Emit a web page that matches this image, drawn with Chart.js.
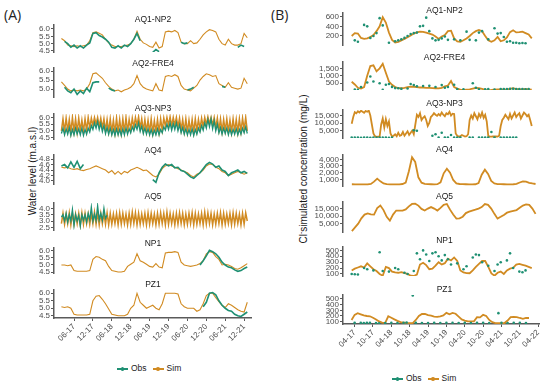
<!DOCTYPE html>
<html>
<head>
<meta charset="utf-8">
<script src="https://cdn.jsdelivr.net/npm/chart.js@4.4.1/dist/chart.umd.min.js"></script>
<style>
  body { margin: 0; width: 550px; height: 384px; position: relative; background: #fff; overflow: hidden;
         font-family: "Liberation Sans", Arial, sans-serif; }
  canvas { position: absolute; }
  .panneau { position: absolute; font-family: "Open Sans", sans-serif; font-size: 14px; color: #222; }
  .titre { position: absolute; font-size: 8.5px; color: #1a1a1a; transform: translate(-50%, -50%); white-space: nowrap; }
  .ytitre { position: absolute; font-size: 10px; color: #1a1a1a; white-space: nowrap;
            transform: translate(-50%, -50%) rotate(-90deg); }
  .ytitre sup { font-size: 7px; }
  .legende { position: absolute; font-size: 8.5px; color: #222; white-space: nowrap; transform: translateY(-50%); }
  .cle { display: inline-block; position: relative; width: 11px; height: 1.5px; vertical-align: middle; margin-right: 3px; }
  .cle::after { content: ''; position: absolute; left: 3.5px; top: -1px; width: 3.5px; height: 3.5px; border-radius: 50%; background: inherit; }
</style>
</head>
<body>
<div class="panneau" style="left:4px;top:5px">(A)</div>
<div class="panneau" style="left:271px;top:5px">(B)</div>
<div class="ytitre" style="left:32px;top:171px">Water level (m.a.s.l)</div>
<div class="ytitre" style="left:303px;top:169px">Cl<sup>-</sup>simulated concentration (mg/L)</div>
<div class="legende" style="left:117px;top:368px"><span class="cle" style="background:#1f9073"></span>Obs<span class="cle" style="background:#d18b22;margin-left:6px"></span>Sim</div>
<div class="legende" style="left:392px;top:378px"><span class="cle" style="background:#1f9073"></span>Obs<span class="cle" style="background:#d18b22;margin-left:6px"></span>Sim</div>

<script>
// couleurs des series
const SIM = '#d18b22';
const OBS = '#1f9073';

// etiquettes de l'axe du temps (mois-annee)
const ticksA = ['06-17', '12-17', '06-18', '12-18', '06-19', '12-19', '06-20', '12-20', '06-21', '12-21'];
const ticksB = ['04-17', '10-17', '04-18', '10-18', '04-19', '10-19', '04-20', '10-20', '04-21', '10-21', '04-22'];
// position d'une etiquette en mois depuis janvier 2017
const moisDe = s => (+s.slice(3) - 17) * 12 + (+s.slice(0, 2) - 1);

// grilles de temps (mois depuis janvier 2017)
function grille(de, a, pas) {
  const out = [];
  for (let m = de; m <= a + 1e-9; m += pas) out.push(+m.toFixed(2));
  return out;
}
const moisA = grille(1, 60, 1);
const demiA = grille(1, 60, 0.5);
const moisB = grille(2, 60, 1);
const demiB = grille(2, 60, 0.5);
const vide = n => Array(n).fill(null);

// ---- (A) niveaux d'eau ----
const aq1Sim = [5.35,5.2,4.9,4.85,4.8,4.85,4.8,4.85,4.9,5.2, 5.75,5.8,5.7,5.6,5.3,5.05,4.9,4.8,4.8,4.8,
  4.85,4.9,5.0,5.3,5.85,5.3,5.05,4.95,4.8,4.75, 5.1,4.7,4.8,5.8,5.85,5.8,5.9,5.75,5.1,5.0,
  5.0,5.2,5.0,5.05,5.3,5.6,5.8,5.95,5.9,5.8, 5.3,5.0,4.9,5.3,5.0,4.9,4.9,5.0,5.7,5.4];
const aq1Obs = [null,5.15,5.0,4.75,4.9,4.7,4.85,4.7,4.9,5.05, 5.7,5.75,5.55,5.45,5.3,5.1,4.75,4.7,4.85,4.7,
  4.9,4.8,5.0,5.3,5.7,5.2,null,null,null,4.4, 4.6,4.45,null,null,null,null,null,null,5.1,5.0,
  5.05,null,null,null,null,null,null,null,null,null, null,null,null,null,null,null,4.75,4.9,4.8,null];

const aq2Sim = [5.4,5.2,5.0,4.9,4.95,4.9,4.95,4.9,5.0,5.3, 5.85,5.9,5.75,5.6,5.35,5.15,5.0,4.9,4.95,4.85,
  4.95,5.0,5.1,5.3,5.75,5.3,5.1,5.0,4.95,4.9, 5.3,4.95,4.9,5.7,5.75,5.7,5.8,5.7,5.2,5.0,
  4.95,4.9,5.05,5.2,5.5,5.7,5.85,5.8,5.7,5.75, 5.3,5.2,5.1,5.35,5.1,5.05,5.0,5.05,5.6,5.3];
const aq2Obs = [null,5.1,4.9,4.8,5.0,4.7,4.9,4.75,5.05,4.85, 5.35,5.4,5.4,null,null,5.05,4.95,4.9,null,null,
  null,null,null,null,null,null,null,null,null,null, null,null,null,null,null,null,null,null,null,null,
  4.95,5.0,5.1,null,null,null,null,null,null,null, null,5.15,5.1,null,null,null,null,null,null,null];

// AQ3-NP3 : pas d'un demi-mois (creux, pic)
const aq3Sim = [5.0,5.9, 4.95,5.95, 5.0,5.85, 4.9,6.0, 4.95,5.9, 4.9,5.95, 5.0,5.8, 4.95,5.9, 5.0,6.0, 5.2,5.95,
  5.4,6.0, 5.5,6.0, 5.35,5.95, 5.2,5.9, 5.0,5.85, 4.95,5.9, 4.9,5.8, 4.85,5.95, 4.9,5.85, 4.85,5.9,
  4.9,6.0, 4.95,5.85, 5.1,5.95, 5.25,6.0, 5.4,6.05, 5.2,5.9, 5.0,5.85, 4.95,5.8, 4.9,5.9, 4.85,5.75,
  4.95,5.85, 4.9,5.9, 5.05,5.95, 5.35,6.0, 5.4,6.05, 5.35,6.0, 5.4,6.0, 5.3,5.95, 5.05,5.85, 4.95,5.9,
  4.9,5.8, 4.95,5.85, 4.9,5.9, 5.0,5.85, 5.15,5.95, 5.3,6.0, 5.45,6.05, 5.5,6.0, 5.4,6.0, 5.25,5.95,
  5.05,5.9, 4.95,5.85, 5.0,5.9, 4.95,5.8, 4.9,5.9, 4.95,5.85, 4.9,5.9, 4.95,5.95, 5.1,6.0, 5.0];
const aq3Obs = [4.8,5.2, 4.7,5.15, 4.75,5.25, 4.65,5.1, 4.7,5.2, 4.75,5.15, 4.7,5.2, 4.65,5.1, 4.75,5.2, 4.9,5.4,
  5.1,5.6, 5.2,5.7, 5.1,5.55, 4.95,5.4, 4.8,5.25, 4.75,5.2, 4.7,5.1, 4.65,5.15, 4.7,5.1, 4.65,5.15,
  4.7,5.2, 4.75,5.15, 4.85,5.3, 5.0,5.45, 5.1,5.6, 4.95,5.35, 4.8,5.2, 4.75,5.15, 4.7,5.1, 4.65,5.05,
  4.7,5.15, 4.7,5.1, 4.85,5.3, 5.05,5.5, 5.1,5.6, 5.05,5.55, 5.1,5.6, 5.0,5.45, 4.85,5.25, 4.75,5.15,
  4.7,5.1, 4.7,5.15, 4.65,5.1, 4.75,5.2, 4.9,5.4, 5.05,5.6, 5.2,5.85, 5.3,5.9, 5.15,5.75, 5.0,5.5,
  4.85,5.25, 4.75,5.2, 4.8,5.2, 4.7,5.15, 4.7,5.1, 4.75,5.15, 4.7,5.1, 4.75,5.2, 4.85,5.3, 4.8];

const aq4Sim = [4.5,4.48,4.5,4.45,4.42,4.45,4.4,4.38,4.42,4.45, 4.5,4.55,4.5,4.45,4.4,4.3,4.38,4.25,4.35,4.25,
  4.35,4.3,4.4,4.45,4.5,4.45,4.38,4.4,4.3,4.2, 4.15,4.25,4.45,4.55,4.6,4.55,4.5,4.45,4.4,4.35,
  4.3,4.2,4.15,4.25,4.3,4.4,4.55,4.62,4.6,4.5, 4.45,4.35,4.3,4.2,4.25,4.3,4.35,4.3,4.25,4.3];
const aq4Obs = [4.55,4.6,4.48,4.7,4.5,4.72,4.45,4.6,null,null, null,null,null,null,null,null,null,null,null,null,
  null,null,null,null,null,null,null,null,null,4.05, 3.95,4.3,4.5,4.62,4.55,4.6,4.48,4.5,4.38,4.35,
  4.25,4.15,4.1,4.2,4.3,4.45,4.6,4.68,4.62,4.5, 4.55,4.4,4.35,4.2,4.3,4.35,4.4,4.3,4.35,4.28];

// AQ5 : pas d'un demi-mois (creux, pic)
const aq5Sim = [2.8,3.6, 2.75,3.55, 2.8,3.65, 2.7,3.6, 2.75,3.55, 2.8,3.6, 2.7,3.65, 2.75,3.6, 2.8,3.55, 2.75,3.6,
  2.8,3.7, 2.75,3.65, 2.7,3.6, 2.8,3.6, 2.75,3.65, 2.7,3.6, 2.75,3.55, 2.8,3.6, 2.7,3.65, 2.75,3.6,
  2.8,3.55, 2.7,3.6, 2.75,3.7, 2.8,3.65, 2.7,3.6, 2.75,3.55, 2.8,3.6, 2.7,3.65, 2.75,3.6, 2.8,3.55,
  2.7,3.6, 2.75,3.65, 2.8,3.6, 2.7,3.7, 2.75,3.6, 2.8,3.55, 2.7,3.6, 2.75,3.65, 2.8,3.6, 2.7,3.55,
  2.75,3.6, 2.8,3.65, 2.7,3.6, 2.75,3.55, 2.8,3.6, 2.7,3.7, 2.75,3.65, 2.8,3.6, 2.7,3.55, 2.75,3.6,
  2.8,3.65, 2.7,3.6, 2.75,3.55, 2.8,3.6, 2.7,3.65, 2.75,3.6, 2.8,3.55, 2.7,3.6, 2.75,3.65, 3.0];
const aq5Obs = [3.3,3.5, 3.0,3.6, 2.9,3.5, 3.0,3.9, 2.65,3.5, 3.0,3.45, 2.6,3.5, 3.05,3.5, 2.9,3.6, 3.1,4.1,
  3.0,3.55, 3.05,4.2, 3.1,3.6, 3.05,4.0, 3.2,3.45];

const np1Sim = [5.0,5.0,4.95,5.0,4.6,4.55,4.55,4.55,4.55,4.6, 5.4,5.6,5.55,5.4,5.3,4.9,4.6,4.55,4.5,4.5,
  4.55,4.9,5.05,5.2,5.8,5.3,5.2,5.05,4.9,4.85, 5.1,4.85,4.8,5.85,5.9,5.9,5.95,5.9,5.2,5.0,
  4.95,4.9,4.95,5.0,5.1,5.3,5.8,5.95,5.9,5.6, 5.4,5.0,5.05,5.0,4.9,4.75,4.7,4.8,4.95,5.1];
const np1Obs = vide(44).concat([5.0,5.3,5.65,6.05,5.95,5.8,5.55,5.2,5.0,4.85,4.8,4.65,4.55,4.6,4.75,4.85]);

const pz1Sim = [5.1,5.05,5.1,5.0,4.6,4.55,4.55,4.55,4.55,4.6, 5.5,5.8,5.85,5.6,5.3,4.95,4.6,4.55,4.5,4.5,
  4.5,4.6,5.0,5.2,6.0,5.4,5.2,5.0,5.1,5.2, 5.0,4.9,5.3,6.0,6.0,6.0,6.0,5.95,5.3,5.1,
  5.0,5.0,5.0,4.8,4.9,5.3,5.85,6.0,6.0,5.7, 5.45,5.2,5.05,5.3,5.2,5.05,4.9,4.8,4.75,5.4];
const pz1Obs = vide(45).concat([5.1,5.4,6.0,6.05,5.9,5.5,5.2,5.0,4.85,4.8,4.6,4.5,4.45,4.6,4.75]);

// ---- (B) concentrations en chlorure ----
const bAq1Sim = [200,260,250,160,140,150,180,220,300,400, 590,480,270,120,65,80,110,140,175,210,
  250,275,290,285,270,250,230,190,140,190, 220,300,310,150,90,80,110,150,200,260,
  300,325,300,200,110,80,110,180,90,110, 170,280,320,275,280,290,260,230,150];
const bAq1Obs = [null,110,80,null,430,400,160,200,260,570, 420,null,60,null,90,110,130,160,200,240,
  260,270,400,410,580,300,150,110,120,150, 190,120,null,130,null,110,null,290,120,null,
  110,270,300,null,130,null,360,250,260,180, 80,90,60,60,50,55,50,null,null];

const bAq2Sim = [600,420,200,150,250,1000,1650,1700,1300,1500, 1800,1200,620,400,250,180,170,200,250,280,
  270,240,220,220,200,200,180,170,160,200, 300,350,650,250,150,80,60,80,100,150,
  200,180,130,60,50,60,80,100,90,80, 100,130,180,120,90,100,120,100,80];
const bAq2Obs = [null,80,60,250,null,550,950,620,null,500, 60,400,450,260,180,170,130,null,150,450,
  380,300,null,320,null,330,null,250,null,380, 200,250,null,400,120,null,100,null,null,500,
  200,100,null,100,120,null,80,null,120,110, 120,130,140,120,110,120,100,120,null];

// AQ3-NP3 simule : pas d'un demi-mois
const bAq3Sim = [9500,14000, 17200,16500, 17800,17000, 18200,17500, 16800,18000, 17500,18300, 15000,9000, 3000,1200,
  800,900, 1000,9000, 13000,7000, 12500,8000, 11000,3000, 1000,1500, 2500,1200, 3500,1500, 2000,4000,
  1500,3000, 4500,2000, 3500,5000, 2500,9000, 15500,14000, 16500,12000, 13500,14500, 12000,8000, 10000,14000,
  15000,16500, 15500,14800, 16000,15000, 17000,15500, 14500,16500, 15800,17500, 15000,16200, 16000,3000,
  1500,1000, 1200,2000, 1500,1000, 1200,2500, 12000,15000, 13000,16500, 14500,12500, 16000,14000,
  17000,13500, 15500,11000, 1200,1000, 900,1000, 1100,1000, 900,1500, 8000,12000, 13500,15500,
  14000,12500, 16000,13000, 15000,17000, 14000,15500, 16500,13000, 15000,17000, 16000,14500, 15500,12000, 8000];
const bAq3Obs = [300,250,300,200,300,250,200,300,250,300, 250,300,200,250,null,null,null,null,null,null,
  5200,4800,null,null,null,null,1500,2500,300,3500, 300,300,2000,300,300,300,null,null,300,300,
  null,300,250,300,300,4000,300,null,300,300, 250,300,300,300,null,null,null,null,null];

const bAq4Sim = [260,250,240,230,230,240,320,650,1100,700, 380,280,250,240,240,250,300,500,2200,4300,
  3600,1300,500,320,280,260,250,270,550,1900, 2600,2000,900,400,300,270,260,250,250,260,
  450,1700,2450,1800,750,380,290,270,260,250, 250,260,320,520,700,650,480,380,300];

const bAq5Sim = [0,2500,5000,8500,11000,11800,11200,11000,15400,17000, 14000,9500,7000,11000,13700,13700,13700,14500,16500,18100,
  18300,17000,14800,13700,15000,16000,15000,13700,15500,17500, 18100,14300,11000,8300,8500,9600,12000,13000,13700,14300,
  15000,16000,18000,17500,15000,11500,8300,9500,10800,12300, 13000,13500,14000,15500,17000,17800,17500,15000,11500];

const bNp1Sim = [160,190,210,230,210,280,230,180,150,100, 70,220,200,140,125,120,130,115,100,70,
  65,90,260,290,250,180,190,240,300,260, 283,360,330,380,320,160,125,115,112,160,
  220,270,320,320,220,110,70,120,140,100, 160,190,205,260,270,255,240,220,200];
const bNp1Obs = [100,95,90,null,200,180,null,160,null,470, 150,null,140,null,200,180,null,120,100,null,
  150,450,350,500,430,320,450,470,400,330, 420,350,260,null,280,null,180,230,null,380,
  430,420,300,null,240,null,150,260,300,null, 330,450,200,null,140,130,160,null,null];

const bPz1Sim = [130,220,250,230,210,200,195,170,140,105, 85,80,195,170,140,115,92,85,78,75,
  75,130,200,235,235,215,205,190,185,195, 210,255,230,255,240,190,140,120,106,105,
  106,180,175,220,200,130,90,76,75,75, 76,120,180,185,182,165,150,165,165];
const bPz1Obs = [null,80,null,80,75,80,80,null,75,70, null,75,null,80,null,75,null,80,85,null,
  560,80,null,75,null,75,null,80,null,75, null,80,null,80,null,75,null,80,null,75,
  null,80,null,80,null,75,null,null,250,80, null,75,null,80,null,80,null,75,null];

// mise en page des deux panneaux
const panneauA = { axe: 54, droite: 252, xMin: -1.35, xMax: 61.5, largeurY: 30, ticks: ticksA,
  fmt: v => v.toFixed(1), points: false };
const panneauB = { axe: 343, droite: 546, xMin: -0.8, xMax: 63.3, largeurY: 45, ticks: ticksB,
  fmt: v => v.toLocaleString('en-US'), points: true };

const sousA = [
  { titre: 'AQ1-NP2', yt: 19, haut: 25, bas: 52, min: 4.43, max: 6.27, yTicks: [4.5, 5, 5.5, 6], x: moisA, sim: aq1Sim, obs: aq1Obs },
  { titre: 'AQ2-FRE4', yt: 63, haut: 68, bas: 97, min: 4.56, max: 6.17, yTicks: [5, 5.5, 6], x: moisA, sim: aq2Sim, obs: aq2Obs },
  { titre: 'AQ3-NP3', yt: 108, haut: 114, bas: 139, min: 4.39, max: 6.26, yTicks: [4.5, 5, 5.5, 6], x: demiA, sim: aq3Sim, obs: aq3Obs, dense: true },
  { titre: 'AQ4', yt: 150, haut: 155, bas: 184, min: 3.89, max: 4.95, yTicks: [4, 4.2, 4.4, 4.6, 4.8], x: moisA, sim: aq4Sim, obs: aq4Obs },
  { titre: 'AQ5', yt: 196, haut: 203, bas: 230, min: 2.29, max: 4.42, yTicks: [2.5, 3, 3.5, 4], x: demiA, sim: aq5Sim, obs: aq5Obs, dense: true },
  { titre: 'NP1', yt: 243, haut: 248, bas: 273, min: 4.43, max: 6.21, yTicks: [4.5, 5, 5.5, 6], x: moisA, sim: np1Sim, obs: np1Obs },
  { titre: 'PZ1', yt: 284, haut: 290, bas: 318, min: 4.35, max: 6.22, yTicks: [4.5, 5, 5.5, 6], x: moisA, sim: pz1Sim, obs: pz1Obs }
];
const sousB = [
  { titre: 'AQ1-NP2', yt: 10, haut: 13, bas: 45, min: 13, max: 677, yTicks: [200, 400, 600], x: moisB, sim: bAq1Sim, obs: bAq1Obs },
  { titre: 'AQ2-FRE4', yt: 57, haut: 62, bas: 90, min: 53, max: 1920, yTicks: [500, 1000, 1500], x: moisB, sim: bAq2Sim, obs: bAq2Obs },
  { titre: 'AQ3-NP3', yt: 103, haut: 109.5, bas: 137.5, min: 0, max: 18667, yTicks: [5000, 10000, 15000], x: demiB, sim: bAq3Sim, obs: bAq3Obs, xObs: moisB },
  { titre: 'AQ4', yt: 149, haut: 155, bas: 186, min: 0, max: 4645, yTicks: [1000, 2000, 3000, 4000], x: moisB, sim: bAq4Sim, obs: [] },
  { titre: 'AQ5', yt: 196, haut: 201.7, bas: 231.7, min: -600, max: 19400, yTicks: [5000, 10000, 15000], x: moisB, sim: bAq5Sim, obs: [] },
  { titre: 'NP1', yt: 240, haut: 246.5, bas: 276, min: 65, max: 558, yTicks: [100, 200, 300, 400, 500], x: moisB, sim: bNp1Sim, obs: bNp1Obs },
  { titre: 'PZ1', yt: 289, haut: 295, bas: 324, min: 59, max: 570, yTicks: [100, 200, 300, 400, 500], x: moisB, sim: bPz1Sim, obs: bPz1Obs }
];

function pts(xs, ys) {
  return ys.map((y, i) => ({ x: xs[i], y: y }));
}

function tracer(p, s, dernier) {
  const pad = 6, hautX = 26;
  const c = document.createElement('canvas');
  c.width = p.droite - p.axe + p.largeurY;
  c.height = (s.bas - s.haut) + pad + (dernier ? hautX : pad);
  c.style.left = (p.axe - p.largeurY) + 'px';
  c.style.top = (s.haut - pad) + 'px';
  document.body.appendChild(c);

  const t = document.createElement('div');
  t.className = 'titre';
  t.textContent = s.titre;
  t.style.left = ((p.axe + p.droite) / 2) + 'px';
  t.style.top = s.yt + 'px';
  document.body.appendChild(t);

  const obs = p.points
    ? { data: pts(s.xObs || s.x, s.obs), showLine: false, pointRadius: 1.3, pointBackgroundColor: OBS, pointBorderWidth: 0, order: 1 }
    : { data: pts(s.x, s.obs), borderColor: OBS, borderWidth: s.dense ? 1.3 : 1.6, pointRadius: 0, order: 1 };
  const sim = { data: pts(s.x, s.sim), borderColor: SIM, borderWidth: p.points ? 1.8 : (s.dense ? 1.5 : 1.1), pointRadius: 0, order: 2 };

  const axe = { display: true, color: '#5a5a5a', width: 1.5 };
  const grille = { display: true, drawOnChartArea: false, drawTicks: true, tickLength: 3, color: '#5a5a5a' };
  const police = { family: '"Liberation Sans", Arial, sans-serif', size: 8 };

  new Chart(c, {
    type: 'line',
    data: { datasets: [obs, sim] },
    options: {
      responsive: false,
      animation: false,
      devicePixelRatio: 1,
      layout: { padding: { top: pad, bottom: dernier ? 0 : pad, left: 0, right: 0 } },
      plugins: { legend: { display: false }, tooltip: { enabled: false } },
      scales: {
        x: {
          type: 'linear', min: p.xMin, max: p.xMax, display: dernier,
          border: axe, grid: grille,
          ticks: { autoSkip: false, minRotation: 45, maxRotation: 45, padding: 1, color: '#4d4d4d', font: police,
                   callback: v => p.ticks.find(l => moisDe(l) === v) || '' },
          afterBuildTicks: sc => { sc.ticks = p.ticks.map(l => ({ value: moisDe(l) })); },
          afterFit: sc => { sc.height = dernier ? hautX : 0; }
        },
        y: {
          min: s.min, max: s.max,
          border: axe, grid: grille,
          ticks: { autoSkip: false, padding: 1, color: '#4d4d4d', font: police, callback: v => p.fmt(v) },
          afterBuildTicks: sc => { sc.ticks = s.yTicks.map(v => ({ value: v })); },
          afterFit: sc => { sc.width = p.largeurY; }
        }
      }
    }
  });
}

sousA.forEach((s, i) => tracer(panneauA, s, i === sousA.length - 1));
sousB.forEach((s, i) => tracer(panneauB, s, i === sousB.length - 1));
</script>
</body>
</html>
